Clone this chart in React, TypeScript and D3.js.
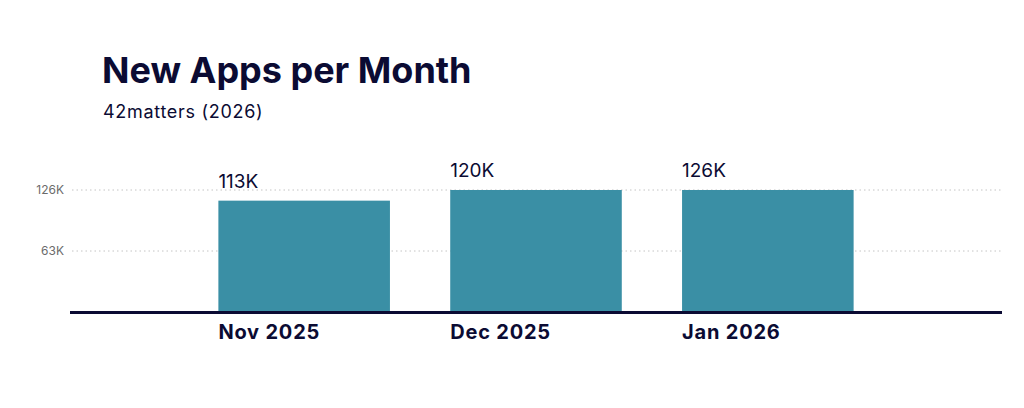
import { useEffect, useRef } from "react";
import * as d3 from "d3";

// chart data
const months = ["Nov 2025", "Dec 2025", "Jan 2026"];
const barHeights = [115, 126, 126]; // thousands, as drawn
const barLabels = ["113K", "120K", "126K"];
const yTicks = [63, 126];

const NAVY = "#0b0b33";
const TEAL = "#3a8fa5";
const FONT = "Inter, 'DejaVu Sans', sans-serif";

const App: React.FC = () => {
  const svgRef = useRef<SVGSVGElement>(null);

  useEffect(() => {
    const width = 1024,
      height = 408;
    const margin = { left: 70, right: 22, baseline: 312, top: 190 };

    d3.select(svgRef.current).selectAll("*").remove();
    const svg = d3
      .select(svgRef.current)
      .attr("width", width)
      .attr("height", height);

    // title + subtitle
    svg
      .append("text")
      .attr("x", 102)
      .attr("y", 83)
      .attr("font-family", FONT)
      .attr("font-size", "36px")
      .attr("font-weight", 700)
      .attr("fill", NAVY)
      .text("New Apps per Month");

    svg
      .append("text")
      .attr("x", 103)
      .attr("y", 118)
      .attr("font-family", FONT)
      .attr("font-size", "18px")
      .attr("letter-spacing", "0.7px")
      .attr("fill", NAVY)
      .text("42matters (2026)");

    const x = d3
      .scaleBand()
      .domain(months)
      .range([margin.left, width - margin.right])
      .paddingInner(0.26)
      .paddingOuter(0.64);

    const y = d3
      .scaleLinear()
      .domain([0, 126])
      .range([margin.baseline, margin.top]);

    // gridlines
    svg
      .selectAll(".grid")
      .data(yTicks)
      .enter()
      .append("line")
      .attr("x1", margin.left + 2)
      .attr("x2", width - margin.right)
      .attr("y1", (d) => y(d))
      .attr("y2", (d) => y(d))
      .attr("stroke", "#c4c4c4")
      .attr("stroke-width", 1)
      .attr("stroke-dasharray", "1.5,3");

    svg
      .selectAll(".tick")
      .data(yTicks)
      .enter()
      .append("text")
      .attr("x", 64)
      .attr("y", (d) => y(d))
      .attr("dy", "0.35em")
      .attr("text-anchor", "end")
      .attr("font-family", FONT)
      .attr("font-size", "12px")
      .attr("fill", "#6b6b6b")
      .text((d) => `${d}K`);

    // bars
    svg
      .selectAll(".bar")
      .data(months)
      .enter()
      .append("rect")
      .attr("x", (d) => x(d)!)
      .attr("y", (_, i) => y(barHeights[i]))
      .attr("width", x.bandwidth())
      .attr("height", (_, i) => margin.baseline - y(barHeights[i]))
      .attr("fill", TEAL);

    // value labels
    svg
      .selectAll(".val")
      .data(months)
      .enter()
      .append("text")
      .attr("x", (d) => x(d)!)
      .attr("y", (_, i) => y(barHeights[i]) - 13)
      .attr("font-family", FONT)
      .attr("font-size", "19px")
      .attr("fill", NAVY)
      .text((_, i) => barLabels[i]);

    // baseline
    svg
      .append("line")
      .attr("x1", margin.left)
      .attr("x2", width - margin.right)
      .attr("y1", margin.baseline + 0.5)
      .attr("y2", margin.baseline + 0.5)
      .attr("stroke", NAVY)
      .attr("stroke-width", 3);

    // month labels
    svg
      .selectAll(".month")
      .data(months)
      .enter()
      .append("text")
      .attr("x", (d) => x(d)!)
      .attr("y", 339)
      .attr("font-family", FONT)
      .attr("font-size", "20px")
      .attr("font-weight", 700)
      .attr("letter-spacing", "0.8px")
      .attr("fill", NAVY)
      .text((d) => d);
  }, []);

  return (
    <div style={{ position: "absolute", left: 0, top: 0 }}>
      <svg ref={svgRef} width="1024" height="408" style={{ display: "block" }}></svg>
    </div>
  );
};

export default App;
